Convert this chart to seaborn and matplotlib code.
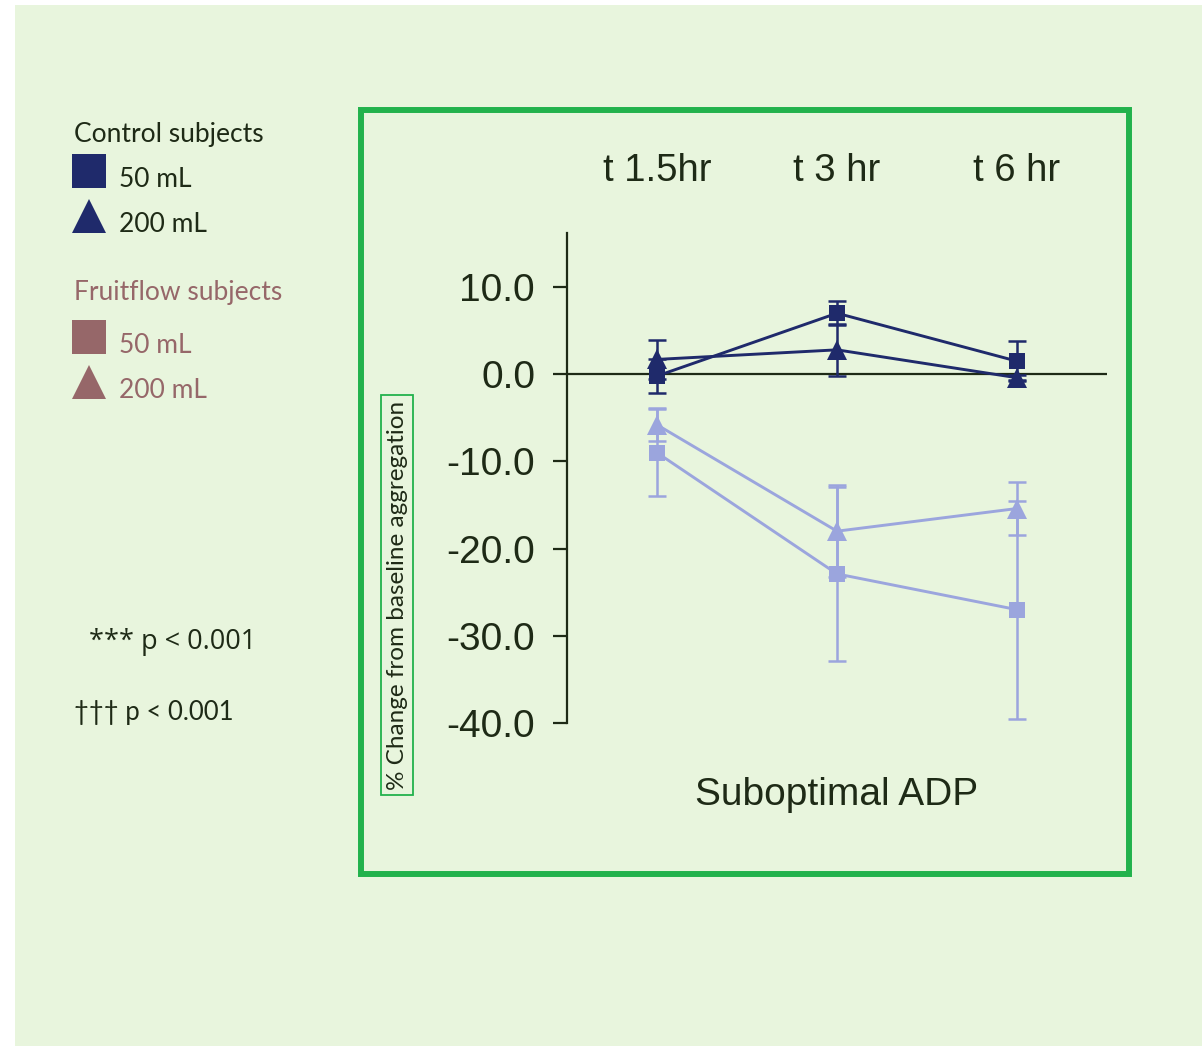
import numpy as np
import pandas as pd
import seaborn as sns
import matplotlib
matplotlib.use("Agg")
import matplotlib.pyplot as plt
from matplotlib.lines import Line2D
from matplotlib.patches import Rectangle
import matplotlib.transforms as mtransforms

sns.set_style("white")
plt.rcParams["font.family"] = ["Liberation Sans", "DejaVu Sans"]

# ---------------- data ----------------
time_labels = ["t 1.5hr", "t 3 hr", "t 6 hr"]
control_50 = [-0.2, 7.0, 1.5]
control_50_err = [1.9, 1.4, 2.3]
control_200 = [1.7, 2.8, -0.4]
control_200_err = [2.2, 3.0, 0.3]
fruit_50 = [-9.0, -22.9, -27.0]
fruit_50_err = [5.0, 10.0, 12.5]
fruit_200 = [-5.8, -18.0, -15.4]
fruit_200_err = [1.9, 5.3, 3.0]
y_ticks = [10.0, 0.0, -10.0, -20.0, -30.0, -40.0]
legend_groups = ["Control subjects", "Fruitflow subjects"]
legend_items = ["50 mL", "200 mL"]
notes = ["*** p < 0.001", "\u2020\u2020\u2020 p < 0.001"]
panel_title = "Suboptimal ADP"
y_label = "% Change from baseline aggregation"

# ---------------- styles ----------------
W, H = 1202, 1048
BG = "#E8F5DD"
GREEN = "#22B24C"
DARK = "#1F2A6B"
LIGHT = "#9BA5DD"
BROWN = "#966769"
INK = "#1E2A16"

rows = []
for name, vals, errs in [("c50", control_50, control_50_err),
                         ("c200", control_200, control_200_err),
                         ("f50", fruit_50, fruit_50_err),
                         ("f200", fruit_200, fruit_200_err)]:
    for i, (v, e) in enumerate(zip(vals, errs)):
        rows.append({"series": name, "pos": i, "time": time_labels[i], "value": v, "err": e})
df = pd.DataFrame(rows)

series_style = {
    "f50": dict(color=LIGHT, marker="s", ms=11.5, z=3),
    "f200": dict(color=LIGHT, marker="^", ms=14, z=3),
    "c50": dict(color=DARK, marker="s", ms=11.5, z=5),
    "c200": dict(color=DARK, marker="^", ms=14, z=5),
}

fig = plt.figure(figsize=(W / 100, H / 100), dpi=100, facecolor="white")

def fx(px):
    return px / W

def fy(py):
    return 1 - py / H

# background panel
bg = Rectangle((fx(15), fy(1046)), fx(W - 15), (1046 - 5) / H,
               transform=fig.transFigure, facecolor=BG, edgecolor="none", zorder=-10)
fig.patches.append(bg)
# green frame
frame = Rectangle((fx(361), fy(874)), (1129 - 361) / W, (874 - 110) / H,
                  transform=fig.transFigure, facecolor="none",
                  edgecolor=GREEN, linewidth=4.3, zorder=-5)
fig.patches.append(frame)

ax = fig.add_axes([fx(567), fy(723), 540 / W, 490 / H])
ax.set_zorder(5)
ax.patch.set_alpha(0)

ax.axhline(0, color=INK, lw=1.6, zorder=2)

for name, st in series_style.items():
    sub = df[df["series"] == name]
    sns.lineplot(data=sub, x="pos", y="value", color=st["color"], marker=st["marker"],
                 markersize=st["ms"], markeredgewidth=0, linewidth=2.1,
                 ax=ax, legend=False, zorder=st["z"], errorbar=None)
    ax.errorbar(sub["pos"], sub["value"], yerr=sub["err"], fmt="none",
                ecolor=st["color"], elinewidth=1.8, capsize=6.5, capthick=1.8,
                zorder=st["z"] - 0.5)

ax.set_xlim(-0.5, 2.5)
ax.set_ylim(-40, 16.2)
ax.set_yticks(y_ticks)
ax.set_yticklabels([f"{t:.1f}" for t in y_ticks])
ax.set_xticks([])
ax.set_xlabel("")
ax.set_ylabel("")
for s in ["top", "right", "bottom"]:
    ax.spines[s].set_visible(False)
ax.spines["left"].set_color(INK)
ax.spines["left"].set_linewidth(1.6)
ax.tick_params(axis="y", direction="out", length=10, width=1.6, color=INK,
               labelsize=28, labelcolor=INK, pad=13, left=True)

# time labels above categories
trans = mtransforms.blended_transform_factory(ax.transData, ax.transAxes)
for i, lab in enumerate(time_labels):
    ax.text(i, (723 - 171) / 490, lab, transform=trans, ha="center", va="center",
            fontsize=27.5, color=INK, clip_on=False)

ax.text(1, (723 - 795) / 490, panel_title, transform=trans, ha="center", va="center",
        fontsize=28, color=INK, clip_on=False)

# y label with green box
fig.text(fx(397), fy(595), y_label, rotation=90, ha="center", va="center",
         fontsize=17.5, color=INK, family=["Lato", "DejaVu Sans"],
         bbox=dict(boxstyle="square,pad=0.22", facecolor="none", edgecolor=GREEN,
                   linewidth=1.3))

# legend on the left
leg_font = ["Lato", "DejaVu Sans"]
fig.text(fx(74), fy(142), legend_groups[0], ha="left", va="baseline", fontsize=19,
         color=INK, family=leg_font)
fig.text(fx(74), fy(300), legend_groups[1], ha="left", va="baseline", fontsize=19,
         color=BROWN, family=leg_font)
for col, tcol, ys in [(DARK, INK, (171, 216, 187, 232)), (BROWN, BROWN, (337, 382, 353, 398))]:
    fig.add_artist(Line2D([fx(88.5)], [fy(ys[0])], transform=fig.transFigure, marker="s",
                          markersize=23.8, color=col, markeredgewidth=0, linestyle="none"))
    fig.add_artist(Line2D([fx(88.5)], [fy(ys[1])], transform=fig.transFigure, marker="^",
                          markersize=23.8, color=col, markeredgewidth=0, linestyle="none"))
    fig.text(fx(119), fy(ys[2]), legend_items[0], ha="left", va="baseline", fontsize=19,
             color=tcol, family=leg_font)
    fig.text(fx(119), fy(ys[3]), legend_items[1], ha="left", va="baseline", fontsize=19,
             color=tcol, family=leg_font)

fig.text(fx(89), fy(649), notes[0], ha="left", va="baseline", fontsize=19.5,
         color=INK, family=["Open Sans", "DejaVu Sans"])
fig.text(fx(74), fy(720), notes[1], ha="left", va="baseline", fontsize=18.5,
         color=INK, family=leg_font)

fig.savefig("out.png", dpi=100, facecolor=fig.get_facecolor())
